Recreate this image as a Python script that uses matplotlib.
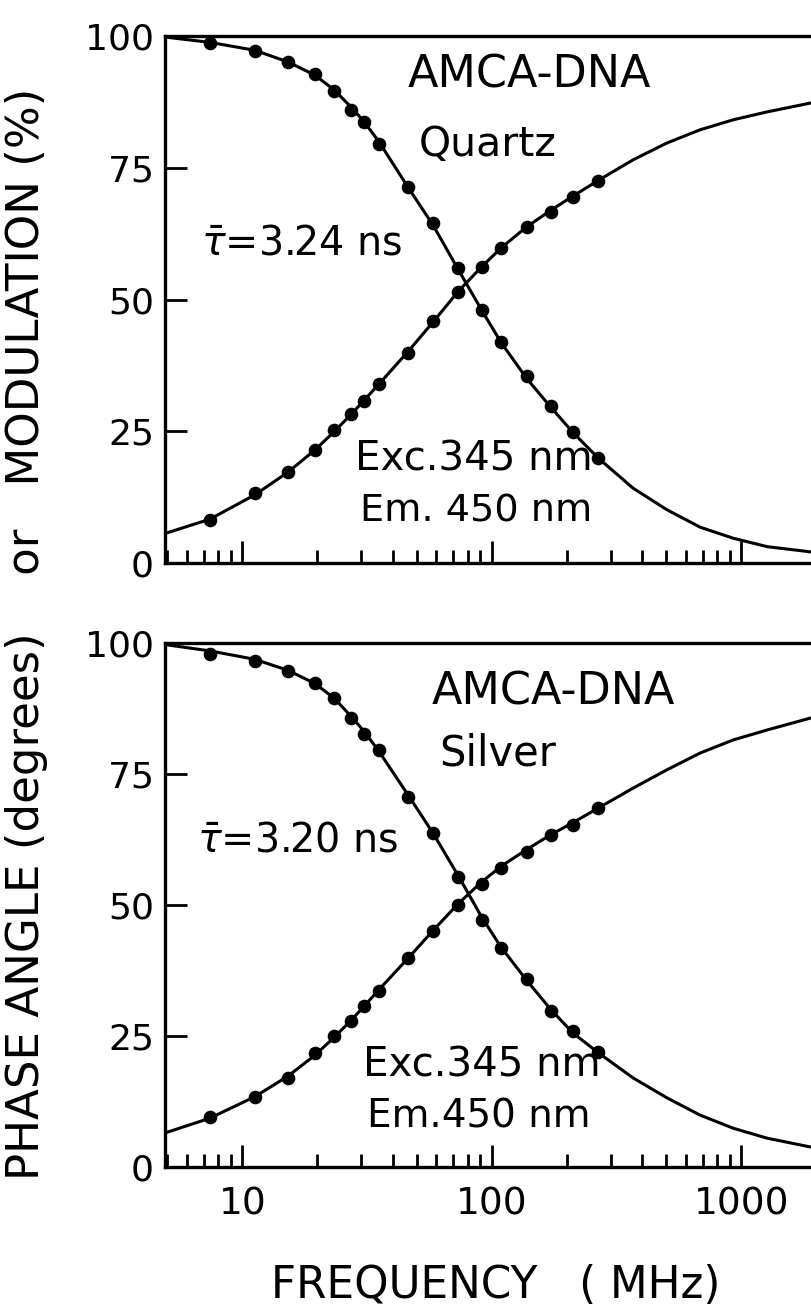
import matplotlib
matplotlib.use('Agg')
import matplotlib.pyplot as plt
from matplotlib.ticker import FixedLocator, LogLocator, NullFormatter

plt.rcParams['font.family'] = ['DejaVu Sans']
plt.rcParams['mathtext.fontset'] = 'dejavusans'

# measured frequencies (MHz)
freq = [7.4, 11.2, 15.2, 19.5, 23.3, 27.3, 30.8, 35.2, 46.3, 58.3, 73.5, 91,
        109, 138, 172, 211, 267]

# AMCA-DNA on quartz
phase_quartz = [8.1, 13.3, 17.3, 21.5, 25.3, 28.2, 30.8, 34.0, 39.9, 45.9,
                51.4, 56.2, 59.7, 63.8, 66.6, 69.4, 72.4]
mod_quartz = [98.6, 97.1, 95.0, 92.7, 89.5, 86.0, 83.6, 79.6, 71.3, 64.6,
              55.9, 48.0, 42.0, 35.4, 29.7, 24.9, 19.9]

# AMCA-DNA on silver
phase_silver = [9.6, 13.4, 17.0, 21.8, 25.0, 27.9, 30.8, 33.6, 39.8, 45.1,
                50.0, 54.1, 57.1, 60.2, 63.3, 65.2, 68.6]
mod_silver = [97.9, 96.6, 94.6, 92.3, 89.5, 85.6, 82.6, 79.5, 70.7, 63.8,
              55.4, 47.2, 41.7, 35.9, 29.8, 26.0, 22.0]

# fitted curves
fit_freq = [4.9, 7.4, 11.2, 15.2, 19.5, 23.3, 27.3, 30.8, 35.2, 46.3, 58.3,
            73.5, 91, 109, 138, 172, 211, 267, 368, 503, 683, 927, 1268, 1900, 2065]
fit_phase_quartz = [5.6, 8.3, 12.9, 17.2, 21.4, 24.9, 28.2, 30.9, 33.9, 40.2,
                    45.8, 51.6, 56.2, 59.8, 63.8, 66.9, 69.6, 72.6, 76.5, 79.7,
                    82.2, 84.1, 85.6, 87.3, 87.6]
fit_mod_quartz = [99.8, 98.8, 97.3, 95.1, 92.6, 89.8, 86.5, 83.7, 80.0, 71.2,
                  64.0, 55.6, 48.0, 41.8, 35.0, 29.6, 24.8, 19.9, 14.2, 10.1,
                  6.8, 4.7, 3.1, 2.1, 1.9]
fit_phase_silver = [6.5, 9.3, 13.4, 17.3, 21.3, 24.7, 28.0, 30.7, 33.8, 39.9,
                    45.2, 50.3, 54.4, 57.4, 60.6, 63.4, 65.7, 68.5, 72.3, 75.8,
                    79.0, 81.5, 83.4, 85.7, 86.0]
fit_mod_silver = [99.7, 98.5, 96.9, 94.8, 92.3, 89.5, 86.0, 83.1, 79.4, 70.9,
                  63.6, 55.5, 47.7, 41.9, 35.6, 30.1, 25.6, 21.8, 17.0, 13.2,
                  9.9, 7.4, 5.5, 3.8, 3.5]

y_ticks = [0, 25, 50, 75, 100]
x_ticks = [10, 100, 1000]

W, H = 811, 1313
fig = plt.figure(figsize=(W / 100, H / 100), dpi=100)

left = 165 / W
width = 655 / W
ax_top = fig.add_axes([left, 1 - 563 / H, width, 527 / H])
ax_bot = fig.add_axes([left, 1 - 1167 / H, width, 524 / H])

panels = [
    (ax_top, phase_quartz, mod_quartz, fit_phase_quartz, fit_mod_quartz),
    (ax_bot, phase_silver, mod_silver, fit_phase_silver, fit_mod_silver),
]

for ax, ph, md, fph, fmd in panels:
    ax.plot(fit_freq, fph, color='black', lw=2.2, zorder=2)
    ax.plot(fit_freq, fmd, color='black', lw=2.2, zorder=2)
    ax.plot(freq, ph, 'o', color='black', ms=8.8, zorder=3)
    ax.plot(freq, md, 'o', color='black', ms=8.8, zorder=3)

    ax.set_xscale('log')
    ax.set_xlim(4.9, 2065)
    ax.set_ylim(0, 100)
    ax.yaxis.set_major_locator(FixedLocator(y_ticks))
    ax.xaxis.set_major_locator(FixedLocator(x_ticks))
    ax.xaxis.set_minor_locator(LogLocator(base=10, subs=range(2, 10)))
    ax.xaxis.set_minor_formatter(NullFormatter())
    ax.tick_params(axis='both', which='major', direction='in', length=16,
                   width=2.0, labelsize=26, pad=8)
    ax.tick_params(axis='x', which='minor', direction='in', length=9.5, width=2.0)
    ax.tick_params(axis='x', which='major', pad=14, labelsize=27)
    for side in ['left', 'top', 'bottom']:
        ax.spines[side].set_linewidth(2.4)
    ax.spines['right'].set_visible(False)

ax_top.set_xticklabels([])
ax_bot.set_xticklabels(['10', '100', '1000'])

# panel annotations
ax_top.text(142, 92.6, 'AMCA-DNA', fontsize=32, ha='center', va='center')
ax_top.text(96.6, 79.3, 'Quartz', fontsize=29.5, ha='center', va='center')
ax_top.text(6.8, 60.7, r'$\bar{\tau}$=3.24 ns', fontsize=28.5, ha='left', va='center')
ax_top.text(28.2, 19.7, 'Exc.345 nm', fontsize=29, ha='left', va='center')
ax_top.text(29.6, 9.7, 'Em. 450 nm', fontsize=27.5, ha='left', va='center')

ax_bot.text(177, 90.6, 'AMCA-DNA', fontsize=32, ha='center', va='center')
ax_bot.text(106, 79.0, 'Silver', fontsize=30, ha='center', va='center')
ax_bot.text(6.6, 62.4, r'$\bar{\tau}$=3.20 ns', fontsize=28.5, ha='left', va='center')
ax_bot.text(30.5, 19.3, 'Exc.345 nm', fontsize=29, ha='left', va='center')
ax_bot.text(31.5, 9.7, 'Em.450 nm', fontsize=28, ha='left', va='center')

fig.text(27 / W, 1 - 634 / H, 'PHASE ANGLE (degrees)    or   MODULATION (%)',
         rotation=90, fontsize=32.5, ha='center', va='center')
fig.text(496 / W, 1 - 1286 / H, 'FREQUENCY   ( MHz)', fontsize=31.5,
         ha='center', va='center')

fig.savefig('out.png', dpi=100)
